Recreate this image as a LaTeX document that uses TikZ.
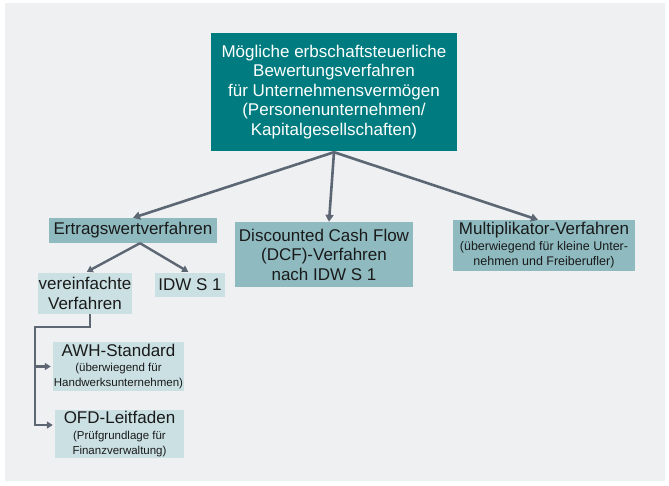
\documentclass[tikz,border=0pt]{standalone}
\usepackage{fontspec}
\setmainfont{Liberation Sans}
\usetikzlibrary{arrows.meta}
\definecolor{bgc}{HTML}{EFF0F2}
\definecolor{teal1}{HTML}{007C80}
\definecolor{mid1}{HTML}{8EBAC0}
\definecolor{light1}{HTML}{CBE0E3}
\definecolor{linec}{HTML}{5C6773}
\definecolor{txt}{HTML}{1A1A1A}
\tikzset{
  box/.style={inner sep=0pt, align=center, text=txt, font=\fontsize{17}{19.5}\selectfont},
  topbox/.style={box, fill=teal1, text=white, minimum width=246pt, minimum height=118pt},
  midbox/.style={box, fill=mid1},
  lowbox/.style={box, fill=light1},
  conn/.style={draw=linec, line width=2.6pt, -{Triangle[length=7pt,width=8pt]}},
  conn2/.style={draw=linec, line width=2.4pt, -{Triangle[length=6pt,width=7pt]}, shorten >=2pt}
}
\newcommand{\smalltxt}{\fontsize{12.5}{14.5}\selectfont}
\newcommand{\smallertxt}{\fontsize{11.5}{14}\selectfont}
\begin{document}
\begin{tikzpicture}[x=1pt,y=-1pt]
\useasboundingbox (0,0) rectangle (669,485);
\fill[bgc] (5,3) rectangle (665,481);

\node[topbox] (top) at (334,92) {Mögliche erbschaftsteuerliche\\Bewertungsverfahren\\für Unternehmensvermögen\\(Personenunternehmen/\\Kapitalgesellschaften)};

\node[midbox, minimum width=168pt, minimum height=25pt] (ertrag) at (133,230.5) {Ertragswertverfahren};
\node[midbox, minimum width=178pt, minimum height=65pt] (dcf) at (324,254.5) {Discounted Cash Flow\\(DCF)-Verfahren\\nach IDW S 1};
\node[midbox, minimum width=182pt, minimum height=51pt] (multi) at (544,245.5) {Multiplikator-Verfahren\\[-4pt]{\smalltxt (überwiegend für kleine Unter-}\\[-4pt]{\smalltxt nehmen und Freiberufler)}};

\node[lowbox, minimum width=94pt, minimum height=41pt] (verein) at (85,293.5) {vereinfachte\\Verfahren};
\node[lowbox, minimum width=70pt, minimum height=24pt] (idw) at (190,285) {IDW S 1};
\node[lowbox, minimum width=131pt, minimum height=49pt] (awh) at (118.5,366.5) {AWH-Standard\\[-4pt]{\smallertxt (überwiegend für}\\[-4.5pt]{\smallertxt Handwerksunternehmen)}};
\node[lowbox, minimum width=129pt, minimum height=48pt] (ofd) at (119.5,434) {OFD-Leitfaden\\[-4pt]{\smallertxt (Prüfgrundlage für}\\[-4.5pt]{\smallertxt Finanzverwaltung)}};

\draw[conn] ([yshift=-1pt]top.south) -- (ertrag.north);
\draw[conn] ([yshift=-1pt]top.south) -- ([xshift=5pt]dcf.north);
\draw[conn] ([yshift=-1pt]top.south) -- ([xshift=-6pt]multi.north);
\draw[conn2] ([xshift=7pt]ertrag.south) -- (verein.north);
\draw[conn2] ([xshift=7pt]ertrag.south) -- (idw.north);

\coordinate (bend) at (35,327);
\draw[conn2] ([xshift=5pt]verein.south) |- (bend) |- ([yshift=9pt]ofd.west);
\draw[conn2] (bend) |- (awh.west);
\end{tikzpicture}
\end{document}
